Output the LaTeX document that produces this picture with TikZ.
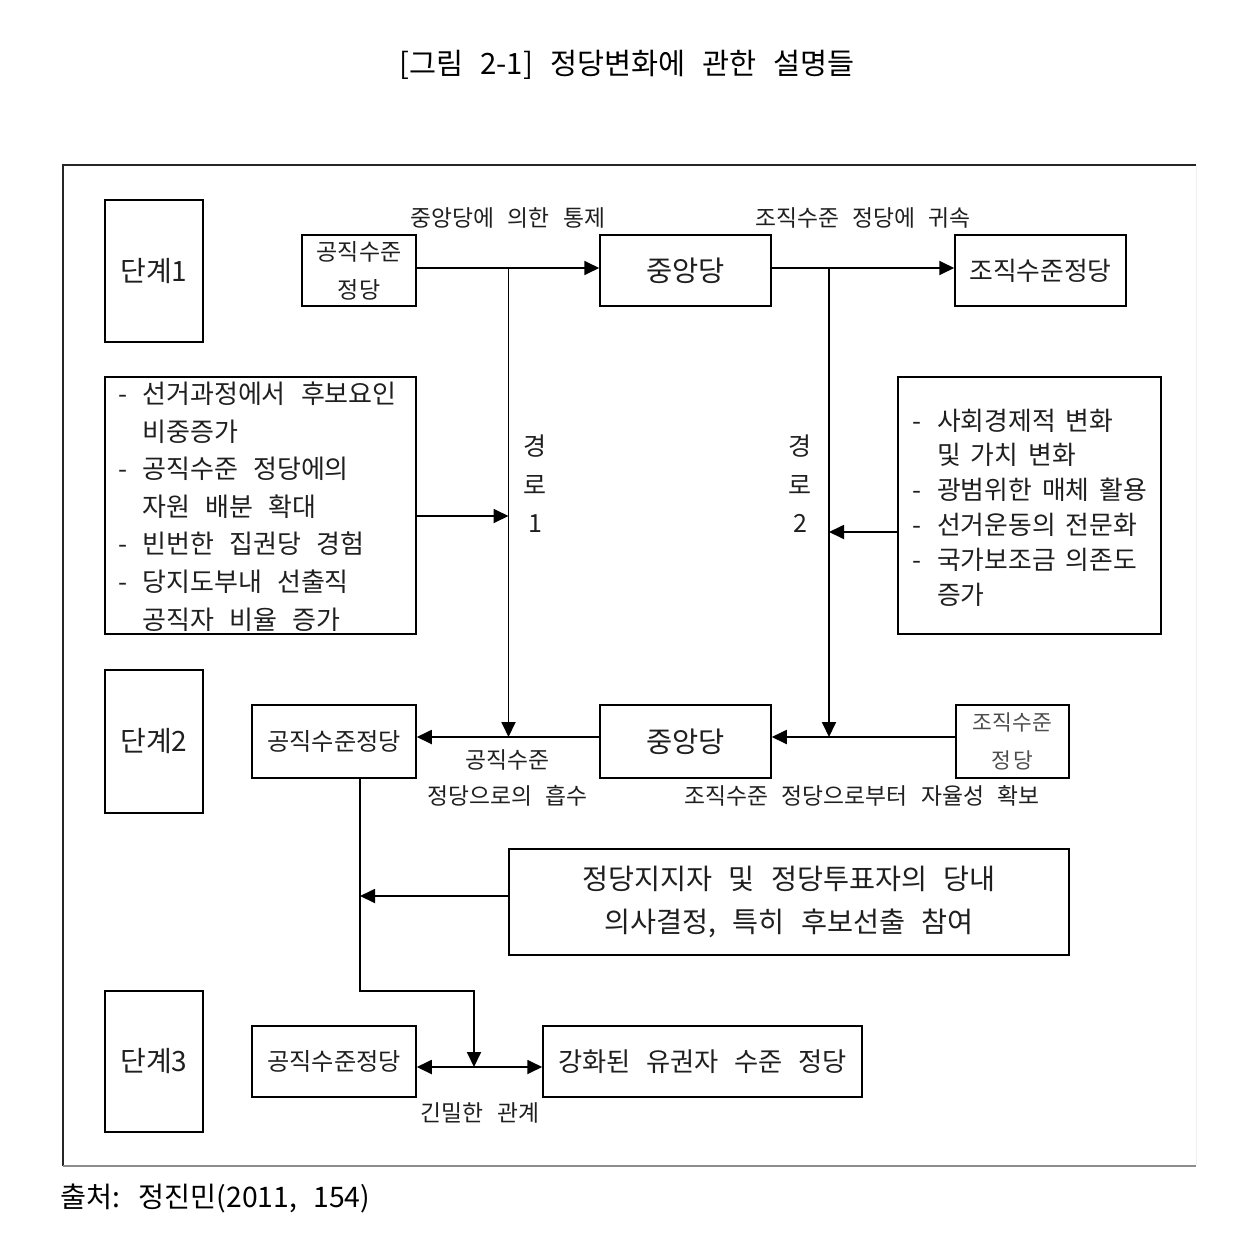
\documentclass[tikz,border=0pt]{standalone}
\usepackage{fontspec}
\setmainfont[WordSpace=2.6]{Noto Sans CJK KR}
\usetikzlibrary{arrows.meta}
\definecolor{ink}{gray}{0.12}
\newcommand{\fs}[2]{\fontsize{#1}{#2}\selectfont}
\newcommand{\rb}{-\hspace{16pt}}
\newcommand{\rbi}{\phantom{-}\hspace{16pt}}
\begin{document}
\begin{tikzpicture}[x=1pt,y=-1pt,
  box/.style={draw=black, line width=1.5pt, rectangle, inner sep=0pt, text=ink, align=center},
  arr/.style={-{Triangle[length=15pt,width=14pt]}, line width=1.8pt},
  darr/.style={{Triangle[length=15pt,width=14pt]}-{Triangle[length=15pt,width=14pt]}, line width=1.8pt},
  lbl/.style={text=ink, inner sep=0pt, align=center, font=\fs{22.8}{36}},
]
\useasboundingbox (0,0) rectangle (1240,1234);

% title and source
\node[text=black, inner sep=0pt, font=\fs{29.4}{34}] (title) at (627,65) {[그림 2-1] 정당변화에 관한 설명들};
\node[text=black, inner sep=0pt, anchor=west, font=\fs{28.3}{32}] (src) at (60,1198) {출처: 정진민(2011, 154)};

% outer frame
\draw[line width=1.5pt, black!85] (1196,165) -- (63,165) -- (63,1166);
\draw[line width=1.2pt, black!45] (63,1166) -- (1196,1166);
\draw[line width=1pt, black!6] (1196,165) -- (1196,1166);

% stage boxes
\node[box, minimum width=98pt, minimum height=142pt, font=\fs{28}{30}] (s1) at (154,271) {단계1};
\node[box, minimum width=98pt, minimum height=143pt, font=\fs{28}{30}] (s2) at (154,741.5) {단계2};
\node[box, minimum width=98pt, minimum height=141pt, font=\fs{28}{30}] (s3) at (154,1061.5) {단계3};

% top row
\node[box, minimum width=114pt, minimum height=71pt, font=\fs{23}{38}] (kj1) at (359,270.5) {공직수준\\정당};
\node[box, minimum width=171pt, minimum height=71pt, font=\fs{28.5}{30}] (jad1) at (685.5,270.5) {중앙당};
\node[box, minimum width=171pt, minimum height=71pt, font=\fs{25.8}{30}] (jj1) at (1040.5,270.5) {조직수준정당};

% bullet boxes
\node[box, minimum width=311pt, minimum height=257pt] (L) at (260.5,505.5) {};
\node[text=ink, inner sep=0pt, anchor=west, align=left, font=\fs{26}{37.6}] (Lt) at (118,506.5)
  {- 선거과정에서 후보요인\\
   \phantom{- }비중증가\\
   - 공직수준 정당에의\\
   \phantom{- }자원 배분 확대\\
   - 빈번한 집권당 경험\\
   - 당지도부내 선출직\\
   \phantom{- }공직자 비율 증가};
\node[box, minimum width=263pt, minimum height=257pt] (R) at (1029.5,505.5) {};
\node[text=ink, inner sep=0pt, anchor=west, align=left, font={\fs{25.8}{34.8}\spaceskip=10pt plus 2pt minus 1pt}] (Rt) at (912,507.5)
  {\rb 사회경제적 변화\\
   \rbi 및 가치 변화\\
   \rb 광범위한 매체 활용\\
   \rb 선거운동의 전문화\\
   \rb 국가보조금 의존도\\
   \rbi 증가};

% middle row
\node[box, minimum width=164pt, minimum height=73pt, font=\fs{24.2}{30}] (kj2) at (334,741.5) {공직수준정당};
\node[box, minimum width=171pt, minimum height=73pt, font=\fs{28.5}{30}] (jad2) at (685.5,741.5) {중앙당};
\node[box, minimum width=113pt, minimum height=73pt, font=\fs{21.5}{38}, text=black!70] (jj2) at (1012.5,741.5) {조직수준\\정\kern2pt 당};

% big box
\node[box, minimum width=560pt, minimum height=106pt, font=\fs{28.3}{43}] (big) at (789,902) {정당지지자 및 정당투표자의 당내\\의사결정, 특히 후보선출 참여};

% bottom row
\node[box, minimum width=164pt, minimum height=71pt, font=\fs{24.2}{30}] (kj3) at (334,1061.5) {공직수준정당};
\node[box, minimum width=319pt, minimum height=71pt, font=\fs{26.3}{30}] (gh) at (702.5,1061.5) {강화된 유권자 수준 정당};

% labels
\node[lbl] (t1) at (508,218) {중앙당에 의한 통제};
\node[lbl] (t2) at (863,218) {조직수준 정당에 귀속};
\node[lbl] (t3) at (507.5,778) {공직수준\\정당으로의 흡수};
\node[lbl] (t4) at (862,796) {조직수준 정당으로부터 자율성 확보};
\node[lbl] (t5) at (480,1113) {긴밀한 관계};
\node[text=ink, inner sep=0pt, align=center, font=\fs{25}{38.5}] (r1) at (535,484) {경\\로\\1};
\node[text=ink, inner sep=0pt, align=center, font=\fs{25}{38.5}] (r2) at (800,484) {경\\로\\2};

% coordinates
\coordinate (p1a) at (508.5,268);
\coordinate (p1b) at (508.5,737);
\coordinate (p2a) at (829,268);
\coordinate (p2b) at (829,737);
\coordinate (c1) at (508.5,516);
\coordinate (c2) at (829,532);
\coordinate (d1) at (360,991);
\coordinate (d2) at (474,991);
\coordinate (d3) at (474,1067);
\coordinate (e1) at (360,896);

% connectors
\draw[arr] ([yshift=2.5pt]kj1.east) -- ([yshift=2.5pt]jad1.west);
\draw[arr] ([yshift=2.5pt]jad1.east) -- ([yshift=2.5pt]jj1.west);
\draw[arr] (p1a) -- (p1b);
\draw[arr] (p2a) -- (p2b);
\draw[arr] (L.east |- c1) -- (c1);
\draw[arr] (R.west |- c2) -- (c2);
\draw[arr] ([yshift=4.5pt]jad2.west) -- ([yshift=4.5pt]kj2.east);
\draw[arr] ([yshift=4.5pt]jj2.west) -- ([yshift=4.5pt]jad2.east);
\draw[arr] (kj2.south -| d1) -- (d1) -- (d2) -- (d3);
\draw[arr] (big.west |- e1) -- (e1);
\draw[darr] ([yshift=-5.5pt]kj3.east) -- ([yshift=-5.5pt]gh.west);
\end{tikzpicture}
\end{document}
